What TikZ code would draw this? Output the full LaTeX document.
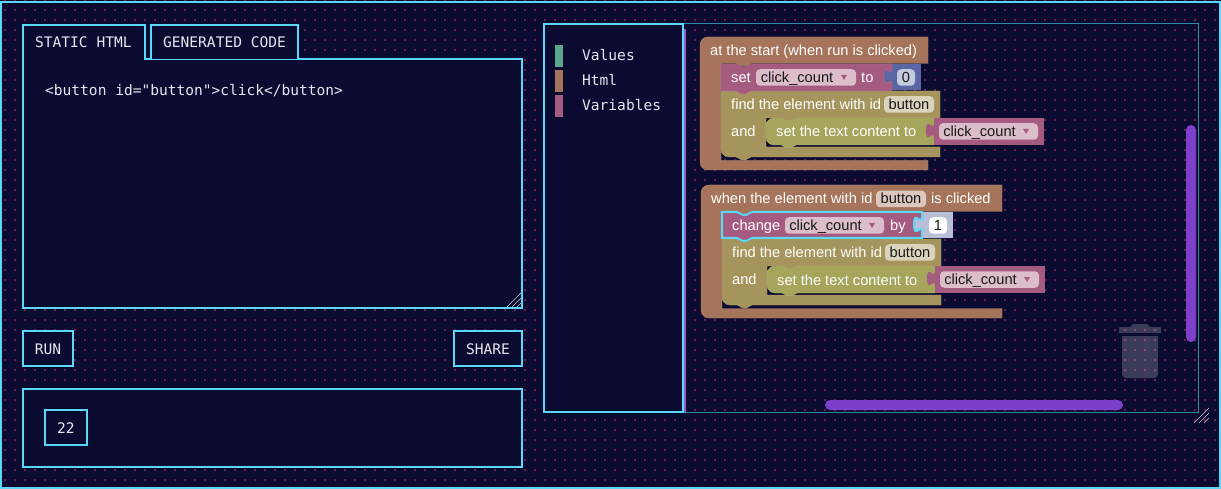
\documentclass[tikz,border=0pt]{standalone}
\usepackage{fontspec}
\setmainfont{Liberation Sans}
\setmonofont{DejaVu Sans Mono}
\usetikzlibrary{positioning}
\definecolor{pagebg}{HTML}{0B0B31}
\definecolor{griddot}{HTML}{642250}
\definecolor{neon}{HTML}{5AD8F8}
\definecolor{wsline}{HTML}{2F8A9E}
\definecolor{scrollbar}{HTML}{7D3FC9}
\definecolor{uitext}{HTML}{E6E6F0}
\definecolor{hatbrown}{HTML}{A5745B}
\definecolor{olive}{HTML}{A5945B}
\definecolor{leaf}{HTML}{A5A55B}
\definecolor{plum}{HTML}{A55B80}
\definecolor{numblue}{HTML}{5B67A5}
\definecolor{numpale}{HTML}{B9BFD8}
\definecolor{teal}{HTML}{5BA58C}
\tikzset{
  panel/.style={draw=neon,line width=2pt,fill=pagebg},
  uibox/.style={panel,inner sep=0pt,text=uitext,text height=12pt,text depth=0pt,font=\ttfamily\fontsize{14.55}{17}\selectfont},
  uilabel/.style={anchor=base west,inner sep=0pt,text=uitext,font=\ttfamily\fontsize{14.55}{17}\selectfont},
  blocklabel/.style={anchor=base west,inner sep=0pt,text=white,font=\fontsize{14.65}{17}\selectfont},
  field/.style={rounded corners=4pt,inner sep=0pt,minimum height=16.5pt,text height=11.5pt,text depth=1.5pt,text=black!90,font=\fontsize{14.65}{17}\selectfont},
  swatch/.style={minimum width=8pt,minimum height=22pt,inner sep=0pt},
  edge light/.style={draw=#1!85!white,line width=.4pt,fill=#1},
  grip/.style={draw=gray!40,line width=.6pt}
}
% output tab of a value block, x and y of its top left corner
\newcommand{\outtab}[3]{\fill[#3,shift={(#1,#2)}] (0,5) .. controls (0,15) and (-8,-3) .. (-8,12.5) .. controls (-8,28) and (0,10) .. (0,20) -- cycle;}
% the two blocks which both stacks end with
\newcommand{\findstack}[2]{
\begin{scope}[shift={#1}]
\path[edge light=olive] (721,120) -- (721,91) -- (736,91) -- (742,94) -- (745,94) -- (751,91) -- (940,91) -- (940,118) -- (796,118) -- (790,121) -- (787,121) -- (781,118) -- (766,118) -- (766,147) -- (940,147) -- (940,157) -- (751,157) -- (745,160) -- (742,160) -- (736,157) [rounded corners=8pt] -- (721,157) -- cycle;
\path[edge light=leaf,rounded corners=8pt] (766,130) -- (766,118) [sharp corners] -- (781,118) -- (787,121) -- (790,121) -- (796,118) -- (934,118) -- (934,145) -- (796,145) -- (790,148) -- (787,148) -- (781,145) [rounded corners=8pt] -- (766,145) -- cycle;
\fill[plum] (934,118) rectangle (1044,145);
\outtab{934}{118}{plum}
\node[blocklabel] (find#2) at (731,110) {find the element with id};
\node[field,fill=olive!40!white,minimum width=50pt] (idfield#2) at (909,104.5) {button};
\node[blocklabel] (and#2) at (731,136.5) {and};
\node[blocklabel] (content#2) at (776,137) {set the text content to};
\node[field,fill=plum!40!white,minimum width=99pt] (countfield#2) at (988.5,131.5) {click\_count\rule{18pt}{0pt}};
\fill[plum] (1023,129) -- (1029,129) -- (1026,134) -- cycle;
\end{scope}
}
\begin{document}
\begin{tikzpicture}[x=1pt,y=-1pt]
\useasboundingbox (0,0) rectangle (1221,489);
\fill[pagebg] (0,0) rectangle (1221,489);
\fill[griddot] \foreach \i in {0,...,121} { \foreach \j in {0,...,48} { ({4+10*\i},{-1+10*\j}) rectangle +(2,2) } };
\draw[neon,line width=2pt] (1,2) rectangle (1220,488);

% left side
\draw[panel] (23,59) rectangle (522,308);
\draw[panel] (151,59) -- (151,25) -- (298,25) -- (298,59);
\draw[panel] (23,60) -- (23,25) -- (144.5,25) -- (144.5,59);
\fill[pagebg] (24,55) rectangle (143.5,61);
\node[uilabel] (statictab) at (35,47.5) {STATIC HTML};
\node[uilabel] (generatedtab) at (163,47.5) {GENERATED CODE};
\node[uilabel] (source) at (45,95.5) {<button id="button">click</button>};
\draw[grip] (507,307) -- (521,293) (512,307) -- (521,298) (517,307) -- (521,303);
\node[uibox,minimum width=50pt,minimum height=35pt] (run) at (48,348.5) {RUN};
\node[uibox,minimum width=68pt,minimum height=35pt] (share) at (488,348.5) {SHARE};
\draw[panel] (23,388.5) rectangle (522,467);
\node[uibox,minimum width=42pt,minimum height=35pt] (result) at (66,427.5) {22};

% toolbox and workspace
\draw[wsline,line width=1pt] (683,24) -- (1198,24) -- (1198,412) -- (683,412);
\draw[panel] (544,24) rectangle (683,412);
\draw[scrollbar!85!white,line width=2pt] (685,29) -- (685,412);
\node[swatch,fill=teal] (valuesmark) at (559,56) {};
\node[swatch,fill=hatbrown] (htmlmark) at (559,81) {};
\node[swatch,fill=plum] (varsmark) at (559,106) {};
\node[uilabel] (values) at (582,60.5) {Values};
\node[uilabel] (html) at (582,85.5) {Html};
\node[uilabel] (variables) at (582,110.5) {Variables};
\fill[scrollbar,rounded corners=5pt] (1186,125) rectangle (1196,342);
\fill[scrollbar,rounded corners=5pt] (825,400) rectangle (1123,410);
\fill[white,opacity=.2] (1119,327) -- (1130,327) -- (1133,324) -- (1147,324) -- (1150,327) -- (1161,327) -- (1161,333) -- (1119,333) -- cycle;
\fill[white,opacity=.2] (1122,336) -- (1158,336) [rounded corners=4pt] -- (1158,378) -- (1122,378) [sharp corners] -- cycle;
\draw[grip] (1194,423) -- (1209,408) (1199,423) -- (1209,413) (1204,423) -- (1209,418);

% first stack
\path[edge light=hatbrown] (700,100) [rounded corners=8pt] -- (700,37) [sharp corners] -- (928,37) -- (928,63.5) -- (751,63.5) -- (745,66.5) -- (742,66.5) -- (736,63.5) -- (721,63.5) -- (721,160.5) -- (928,160.5) -- (928,170) [rounded corners=8pt] -- (700,170) -- cycle;
\node[blocklabel] (startlabel) at (710,56) {at the start (when run is clicked)};
\findstack{(0,0)}{a}
\fill[numblue] (892,64) rectangle (920.5,90.5);
\outtab{892}{64}{numblue}
\path[edge light=plum] (721,64) -- (736,64) -- (742,67) -- (745,67) -- (751,64) -- (892,64) -- (892,69) .. controls (892,79) and (884,61) .. (884,76.5) .. controls (884,92) and (892,74) .. (892,84) -- (892,91) -- (751,91) -- (745,94) -- (742,94) -- (736,91) -- (721,91) -- cycle;
\node[blocklabel] (setlabel) at (731,83) {set};
\node[field,fill=plum!40!white,minimum width=100pt] (setfield) at (806,77.5) {click\_count\rule{18pt}{0pt}};
\fill[plum] (841,75) -- (847,75) -- (844,80) -- cycle;
\node[blocklabel] (tolabel) at (861,83) {to};
\node[field,fill=numblue!35!white,minimum width=18pt] (zero) at (906,77.5) {0};

% second stack
\path[edge light=hatbrown] (701,250) [rounded corners=8pt] -- (701,185) [sharp corners] -- (1002,185) -- (1002,211.5) -- (752,211.5) -- (746,214.5) -- (743,214.5) -- (737,211.5) -- (722,211.5) -- (722,308.5) -- (1002,308.5) -- (1002,318) [rounded corners=8pt] -- (701,318) -- cycle;
\node[blocklabel] (clicklabel) at (711,204) {when the element with id};
\node[field,fill=hatbrown!40!white,minimum width=50pt] (clickid) at (901,199) {button};
\node[blocklabel] (islabel) at (931,204) {is clicked};
\findstack{(1,148)}{b}
\fill[numpale] (922,212) rectangle (953,238);
\outtab{922}{212}{numpale}
\draw[neon,line width=2pt,fill=plum] (722,212) -- (737,212) -- (743,215) -- (746,215) -- (752,212) -- (922,212) -- (922,217) .. controls (922,227) and (914,209) .. (914,224.5) .. controls (914,240) and (922,222) .. (922,232) -- (922,238) -- (752,238) -- (746,241) -- (743,241) -- (737,238) -- (722,238) -- cycle;
\node[blocklabel] (changelabel) at (732,231) {change};
\node[field,fill=plum!40!white,minimum width=99pt] (changefield) at (834.5,225.5) {click\_count\rule{18pt}{0pt}};
\fill[plum] (869,223) -- (875,223) -- (872,228) -- cycle;
\node[blocklabel] (bylabel) at (890,231) {by};
\node[field,fill=white,minimum width=18pt] (one) at (938,225.5) {1};
\end{tikzpicture}
\end{document}
